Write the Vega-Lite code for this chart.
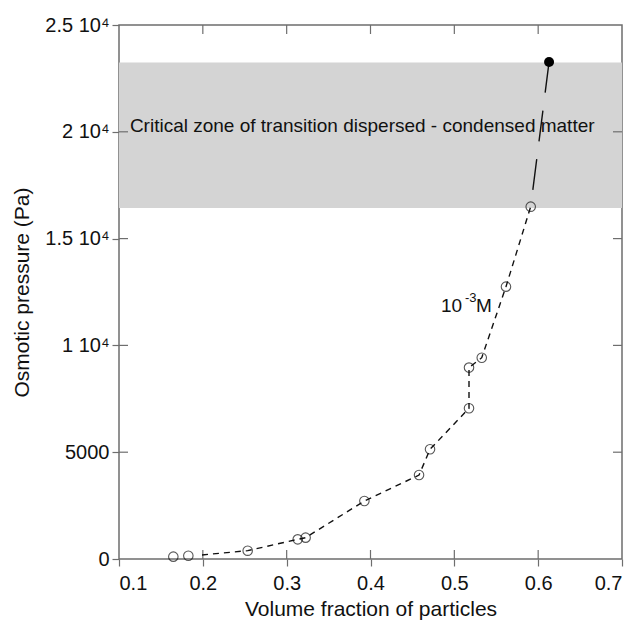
{
  "$schema": "https://vega.github.io/schema/vega-lite/v6.json",
  "width": 503,
  "height": 534,
  "autosize": {"type": "none"},
  "padding": {"left": 119, "top": 25, "right": 17, "bottom": 68},
  "background": "white",
  "config": {
    "font": "Liberation Sans",
    "view": {"stroke": "#6e6e6e", "strokeWidth": 1.5},
    "axis": {"grid": false, "domain": false, "ticks": true, "tickSize": 7, "tickColor": "#6e6e6e", "tickWidth": 1.2, "labelColor": "#111", "titleColor": "#111", "labelFont": "Liberation Sans", "titleFont": "Liberation Sans", "titleFontWeight": "normal"}
  },
  "datasets": {
    "band": [{"lo": 16430, "hi": 23250}],
    "xbottom": [{"v": 0.2, "edge": 0}, {"v": 0.3, "edge": 0}, {"v": 0.4, "edge": 0}, {"v": 0.5, "edge": 0}, {"v": 0.6, "edge": 0}],
    "xtop": [{"v": 0.2, "edge": 25000}, {"v": 0.3, "edge": 25000}, {"v": 0.4, "edge": 25000}, {"v": 0.5, "edge": 25000}, {"v": 0.6, "edge": 25000}],
    "yleft": [{"v": 5000, "edge": 0.1}, {"v": 10000, "edge": 0.1}, {"v": 15000, "edge": 0.1}, {"v": 20000, "edge": 0.1}],
    "yright": [{"v": 5000, "edge": 0.7}, {"v": 10000, "edge": 0.7}, {"v": 15000, "edge": 0.7}, {"v": 20000, "edge": 0.7}],
    "open": [
      {"x": 0.1648, "y": 110}, {"x": 0.1827, "y": 155}, {"x": 0.2535, "y": 390},
      {"x": 0.3132, "y": 920}, {"x": 0.3226, "y": 1000}, {"x": 0.3927, "y": 2715},
      {"x": 0.4579, "y": 3930}, {"x": 0.471, "y": 5135}, {"x": 0.5175, "y": 7055},
      {"x": 0.5175, "y": 8960}, {"x": 0.5327, "y": 9425}, {"x": 0.5616, "y": 12750},
      {"x": 0.5911, "y": 16495}
    ],
    "curve": [
      {"i": 0, "x": 0.199, "y": 190}, {"i": 1, "x": 0.2535, "y": 390}, {"i": 2, "x": 0.3132, "y": 920},
      {"i": 3, "x": 0.3226, "y": 1000}, {"i": 4, "x": 0.3927, "y": 2715}, {"i": 5, "x": 0.4579, "y": 3930},
      {"i": 6, "x": 0.471, "y": 5135}, {"i": 7, "x": 0.5175, "y": 7055}, {"i": 8, "x": 0.5175, "y": 8960},
      {"i": 9, "x": 0.5327, "y": 9425}, {"i": 10, "x": 0.5616, "y": 12750}, {"i": 11, "x": 0.5911, "y": 16495}
    ],
    "upper": [
      {"i": 0, "x": 0.613, "y": 23270}, {"i": 1, "x": 0.5911, "y": 16495}
    ],
    "filled": [{"x": 0.613, "y": 23270}],
    "zone": [{"x": 0.113, "y": 20000, "t": "Critical zone of transition dispersed - condensed matter"}],
    "conc": [{"x": 0.4841, "y": 11564}]
  },
  "layer": [
    {
      "data": {"name": "band"},
      "mark": {"type": "rect", "color": "#d4d4d4"},
      "encoding": {
        "x": {"datum": 0.1, "type": "quantitative", "scale": {"domain": [0.1, 0.7], "nice": false, "zero": false}},
        "x2": {"datum": 0.7},
        "y": {"field": "lo", "type": "quantitative", "scale": {"domain": [0, 25000], "nice": false}},
        "y2": {"field": "hi"}
      }
    },
    {
      "data": {"name": "xbottom"},
      "mark": {"type": "point", "shape": "M0,0L0,-1", "filled": false, "color": "#6e6e6e", "size": 324, "strokeWidth": 1.2, "opacity": 1},
      "encoding": {
        "x": {"field": "v", "type": "quantitative"},
        "y": {"field": "edge", "type": "quantitative"}
      }
    },
    {
      "data": {"name": "xtop"},
      "mark": {"type": "point", "shape": "M0,0L0,1", "filled": false, "color": "#6e6e6e", "size": 324, "strokeWidth": 1.2, "opacity": 1},
      "encoding": {
        "x": {"field": "v", "type": "quantitative"},
        "y": {"field": "edge", "type": "quantitative"}
      }
    },
    {
      "data": {"name": "yleft"},
      "mark": {"type": "point", "shape": "M0,0L1,0", "filled": false, "color": "#6e6e6e", "size": 324, "strokeWidth": 1.2, "opacity": 1},
      "encoding": {
        "y": {"field": "v", "type": "quantitative"},
        "x": {"field": "edge", "type": "quantitative"}
      }
    },
    {
      "data": {"name": "yright"},
      "mark": {"type": "point", "shape": "M0,0L-1,0", "filled": false, "color": "#6e6e6e", "size": 324, "strokeWidth": 1.2, "opacity": 1},
      "encoding": {
        "y": {"field": "v", "type": "quantitative"},
        "x": {"field": "edge", "type": "quantitative"}
      }
    },
    {
      "data": {"name": "zone"},
      "mark": {"type": "text", "align": "left", "baseline": "alphabetic", "fontSize": 19, "color": "#111"},
      "encoding": {
        "x": {"field": "x", "type": "quantitative"},
        "y": {"field": "y", "type": "quantitative"},
        "text": {"field": "t"}
      }
    },
    {
      "data": {"name": "curve"},
      "mark": {"type": "line", "color": "#111", "strokeWidth": 1.4, "strokeDash": [6, 5]},
      "encoding": {
        "x": {"field": "x", "type": "quantitative"},
        "y": {"field": "y", "type": "quantitative"},
        "order": {"field": "i"}
      }
    },
    {
      "data": {"name": "upper"},
      "mark": {"type": "line", "color": "#111", "strokeWidth": 1.4, "strokeDash": [31, 18]},
      "encoding": {
        "x": {"field": "x", "type": "quantitative"},
        "y": {"field": "y", "type": "quantitative"},
        "order": {"field": "i"}
      }
    },
    {
      "data": {"name": "open"},
      "mark": {"type": "point", "shape": "circle", "filled": false, "color": "#111", "size": 90, "strokeWidth": 1.1},
      "encoding": {
        "x": {"field": "x", "type": "quantitative", "scale": {"domain": [0.1, 0.7], "nice": false, "zero": false},
          "axis": {"orient": "bottom", "title": "Volume fraction of particles", "values": [0.1, 0.2, 0.3, 0.4, 0.5, 0.6, 0.7], "format": ".1f", "labelPadding": 7, "labelFontSize": 20, "titleFontSize": 21, "titlePadding": 5}},
        "y": {"field": "y", "type": "quantitative", "scale": {"domain": [0, 25000], "nice": false},
          "axis": {"orient": "left", "title": "Osmotic pressure (Pa)", "values": [0, 5000, 10000, 15000, 20000, 25000], "labelExpr": "datum.value == 0 ? '0' : datum.value == 5000 ? '5000' : (datum.value / 10000) + ' 10⁴'", "labelPadding": 3, "labelFontSize": 20, "titleFontSize": 21, "titlePadding": 12}}
      }
    },
    {
      "data": {"name": "filled"},
      "mark": {"type": "point", "shape": "circle", "filled": true, "color": "#000", "size": 100, "opacity": 1},
      "encoding": {
        "x": {"field": "x", "type": "quantitative"},
        "y": {"field": "y", "type": "quantitative"}
      }
    },
    {
      "data": {"name": "conc"},
      "mark": {"type": "text", "align": "left", "baseline": "alphabetic", "fontSize": 19, "color": "#111", "text": "10"},
      "encoding": {
        "x": {"field": "x", "type": "quantitative"},
        "y": {"field": "y", "type": "quantitative"}
      }
    },
    {
      "data": {"name": "conc"},
      "mark": {"type": "text", "align": "left", "baseline": "alphabetic", "fontSize": 13, "color": "#111", "text": "-3", "dx": 24, "dy": -10},
      "encoding": {
        "x": {"field": "x", "type": "quantitative"},
        "y": {"field": "y", "type": "quantitative"}
      }
    },
    {
      "data": {"name": "conc"},
      "mark": {"type": "text", "align": "left", "baseline": "alphabetic", "fontSize": 19, "color": "#111", "text": "M", "dx": 35},
      "encoding": {
        "x": {"field": "x", "type": "quantitative"},
        "y": {"field": "y", "type": "quantitative"}
      }
    }
  ]
}
